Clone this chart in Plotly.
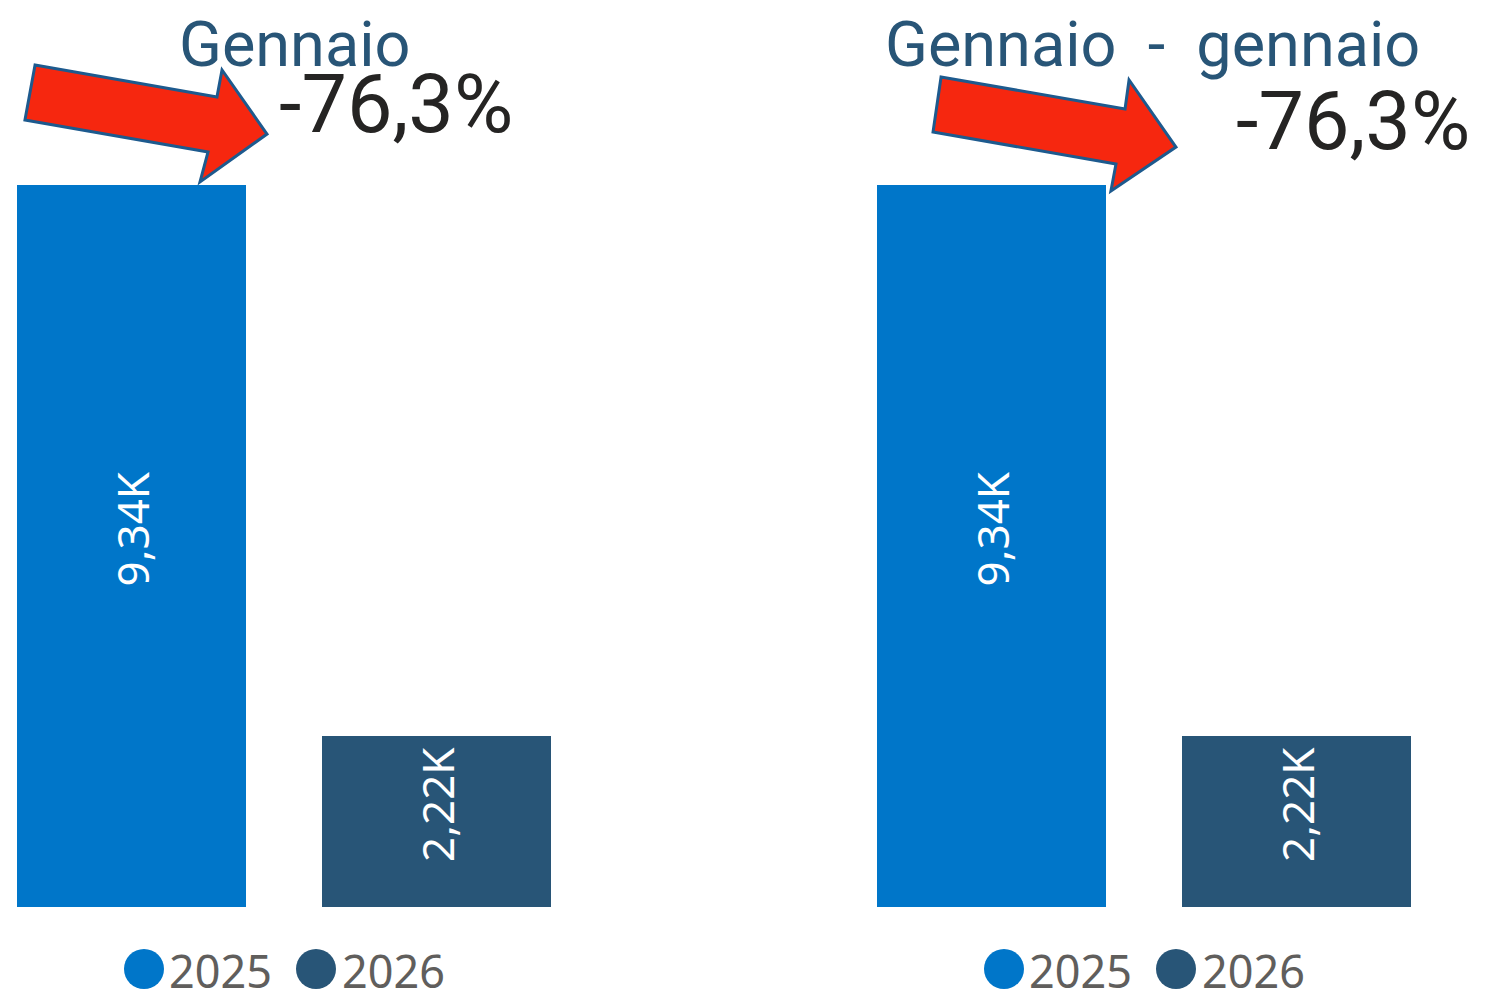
import plotly.graph_objects as go
from plotly.subplots import make_subplots

# data
years = ["2025", "2026"]
gennaio_vals = [9340, 2217]
ytd_vals = [9340, 2217]
panel_titles = ["Gennaio", "Gennaio\u00a0\u00a0-\u00a0\u00a0gennaio"]
year_colors = ["#0076C9", "#285577"]

W, H = 1485, 1007


def fmt_k(v):
    # leading nbsp nudges the rotated label a bit towards the bar top
    return "\u00a0\u00a0\u00a0" + f"{v / 1000:.2f}K".replace(".", ",")


def fmt_pct(a, b):
    return f"{(b - a) / a * 100:.1f}%".replace(".", ",")


def px_x(x):
    return x / W


def px_y(y):
    return 1 - y / H


def arrow_path(pts):
    s = "M " + " L ".join(f"{px_x(x):.4f},{px_y(y):.4f}" for x, y in pts)
    return s + " Z"


fig = make_subplots(rows=1, cols=2)

for col, vals in [(1, gennaio_vals), (2, ytd_vals)]:
    for i, yr in enumerate(years):
        fig.add_trace(go.Bar(
            x=[yr], y=[vals[i]], name=yr, width=0.75,
            marker=dict(color=year_colors[i], line=dict(width=0)),
            text=[fmt_k(vals[i])], textposition="inside", textangle=-90,
            insidetextanchor="middle",
            insidetextfont=dict(family="Noto Sans", size=44, color="white"),
            showlegend=False, hoverinfo="skip",
        ), row=1, col=col)

axis_style = dict(visible=False, showgrid=False, zeroline=False, fixedrange=True)
fig.update_xaxes(type="category", range=[-0.43, 1.5], **axis_style)
fig.update_yaxes(range=[0, 11733], domain=[100 / H, 1], **axis_style)
fig.update_layout(
    xaxis=dict(domain=[0, 0.397]),
    xaxis2=dict(domain=[0.5792, 0.9762]),
)

# arrows (decoration)
arrows = [
    [(35, 65), (217, 97), (222, 70), (267, 134), (200, 182), (208, 152), (25, 120)],
    [(941, 77), (1125, 109), (1129, 80), (1176, 147), (1111, 191), (1116, 164), (933, 132)],
]
shapes = []
for pts in arrows:
    shapes.append(dict(type="path", xref="paper", yref="paper", path=arrow_path(pts),
                       fillcolor="#F6270F", line=dict(color="#1D5A8E", width=3), layer="above"))

annotations = []
title_pos = [(294, 45), (1152, 45)]
pct_pos = [(277, 105), (1234, 122)]
for k, vals in enumerate([gennaio_vals, ytd_vals]):
    annotations.append(dict(
        text=panel_titles[k], xref="paper", yref="paper",
        x=px_x(title_pos[k][0]), y=px_y(title_pos[k][1]), xanchor="center", yanchor="middle",
        showarrow=False, font=dict(family="Roboto", size=63, color="#285577")))
    annotations.append(dict(
        text=fmt_pct(vals[0], vals[1]), xref="paper", yref="paper",
        x=px_x(pct_pos[k][0]), y=px_y(pct_pos[k][1]), xanchor="left", yanchor="middle",
        showarrow=False, font=dict(family="Roboto", size=81, color="#252423")))

# custom legends with round markers
legend_rows = [[(144, 167), (316, 340)], [(1004, 1027), (1176, 1200)]]
for row in legend_rows:
    for i, (cx, tx) in enumerate(row):
        shapes.append(dict(type="circle", xref="paper", yref="paper",
                           x0=px_x(cx - 20), x1=px_x(cx + 20),
                           y0=px_y(969 + 20), y1=px_y(969 - 20),
                           fillcolor=year_colors[i], line=dict(width=0)))
        annotations.append(dict(
            text=years[i], xref="paper", yref="paper", x=px_x(tx), y=px_y(970),
            xanchor="left", yanchor="middle", showarrow=False,
            font=dict(family="Noto Sans", size=45, color="#605E5C")))

fig.update_layout(
    width=W, height=H,
    margin=dict(l=0, r=0, t=0, b=0),
    paper_bgcolor="white", plot_bgcolor="white",
    barmode="overlay", bargap=0,
    shapes=shapes, annotations=annotations,
    showlegend=False,
)

fig.write_html("out.html", config={"displayModeBar": False},
               post_script="document.body.style.margin='0';")
